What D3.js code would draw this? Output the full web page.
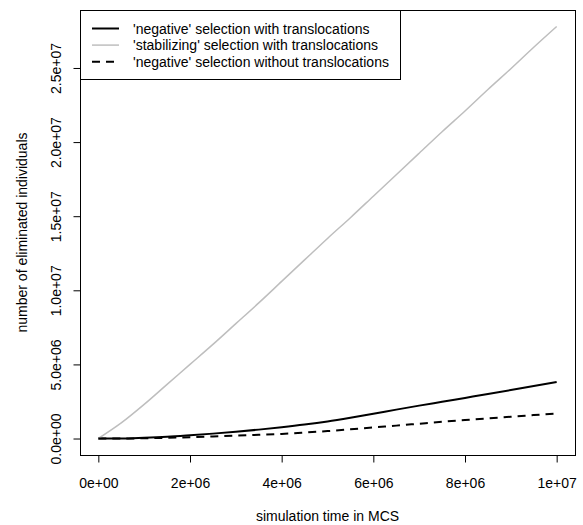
<!DOCTYPE html>
<html>
<head>
<meta charset="utf-8">
<script src="https://cdn.jsdelivr.net/npm/d3@7"></script>
<style>
  html, body { margin: 0; padding: 0; background: #fff; }
  svg { display: block; font-family: "Liberation Sans", Arial, Helvetica, sans-serif; }
</style>
</head>
<body>
<svg id="chart" width="583" height="525"></svg>
<script>
// ---- data ----
const time = [0, 0.5e6, 1e6, 1.5e6, 2e6, 2.5e6, 3e6, 3.5e6, 4e6, 4.5e6, 5e6,
              5.5e6, 6e6, 6.5e6, 7e6, 7.5e6, 8e6, 8.5e6, 9e6, 9.5e6, 1e7];
const negativeWith = [0, 0.0, 0.05e6, 0.12e6, 0.22e6, 0.33e6, 0.46e6, 0.6e6, 0.76e6, 0.94e6, 1.15e6,
                      1.4e6, 1.67e6, 1.95e6, 2.22e6, 2.48e6, 2.74e6, 3.0e6, 3.27e6, 3.55e6, 3.82e6];
const stabilizingWith = [0, 1.05e6, 2.3e6, 3.65e6, 5.0e6, 6.35e6, 7.75e6, 9.15e6, 10.6e6, 12.05e6, 13.5e6,
                         14.9e6, 16.35e6, 17.8e6, 19.25e6, 20.7e6, 22.1e6, 23.55e6, 24.95e6, 26.4e6, 27.8e6];
const negativeWithout = [0, 0.0, 0.02e6, 0.05e6, 0.09e6, 0.14e6, 0.19e6, 0.25e6, 0.31e6, 0.4e6, 0.5e6,
                         0.62e6, 0.75e6, 0.87e6, 1.0e6, 1.13e6, 1.25e6, 1.36e6, 1.47e6, 1.58e6, 1.69e6];
const xTicks = [0, 2e6, 4e6, 6e6, 8e6, 1e7];
const xTickLabels = ["0e+00", "2e+06", "4e+06", "6e+06", "8e+06", "1e+07"];
const yTicks = [0, 5e6, 1e7, 1.5e7, 2e7, 2.5e7];
const yTickLabels = ["0.0e+00", "5.0e+06", "1.0e+07", "1.5e+07", "2.0e+07", "2.5e+07"];
const seriesNames = ["'negative' selection with translocations",
                     "'stabilizing' selection with translocations",
                     "'negative' selection without translocations"];
const xTitle = "simulation time in MCS";
const yTitle = "number of eliminated individuals";

// ---- layout ----
const svg = d3.select("#chart");
const L = 80, R = 575, T = 10, B = 455;
const xMin = 0, xMax = 1e7, yMin = 0, yMax = d3.max(stabilizingWith);
const xPad = (xMax - xMin) * 0.04, yPad = (yMax - yMin) * 0.04;
const x = d3.scaleLinear().domain([xMin - xPad, xMax + xPad]).range([L, R]);
const y = d3.scaleLinear().domain([yMin - yPad, yMax + yPad]).range([B, T]);

// series
const series = [
  {name: seriesNames[0], values: negativeWith, color: "#000", width: 2, dash: null},
  {name: seriesNames[1], values: stabilizingWith, color: "#bebebe", width: 1.5, dash: null},
  {name: seriesNames[2], values: negativeWithout, color: "#000", width: 2, dash: "8,6"}
];
const line = d3.line().x(d => x(d[0])).y(d => y(d[1])).curve(d3.curveMonotoneX);
series.forEach(s => {
  svg.append("path")
    .datum(time.map((t, i) => [t, s.values[i]]))
    .attr("d", line)
    .attr("fill", "none")
    .attr("stroke", s.color)
    .attr("stroke-width", s.width)
    .attr("stroke-dasharray", s.dash);
});

// axes
const xAxis = d3.axisBottom(x).tickValues(xTicks).tickFormat((d, i) => xTickLabels[i]).tickSize(7);
const gx = svg.append("g").attr("transform", `translate(0,${B + 0.5})`).call(xAxis);
gx.select(".domain").remove();
gx.selectAll("line").attr("stroke", "#000");
gx.selectAll("text").attr("font-size", 14).attr("fill", "#000").attr("dy", null).attr("y", 32);

const yAxis = d3.axisLeft(y).tickValues(yTicks).tickFormat((d, i) => yTickLabels[i]).tickSize(7);
const gy = svg.append("g").attr("transform", `translate(${L + 0.5},0)`).call(yAxis);
gy.select(".domain").remove();
gy.selectAll("line").attr("stroke", "#000");
gy.selectAll("text").attr("font-size", 14).attr("fill", "#000")
  .attr("x", null).attr("dy", null).attr("text-anchor", "middle")
  .attr("transform", "translate(-20,0) rotate(-90)");

// box
svg.append("rect").attr("x", L + 0.5).attr("y", T + 0.5).attr("width", R - L).attr("height", B - T)
  .attr("fill", "none").attr("stroke", "#000").attr("stroke-width", 1);

// axis titles
svg.append("text").attr("x", (L + R) / 2).attr("y", 521).attr("text-anchor", "middle")
  .attr("font-size", 14).text(xTitle);
svg.append("text").attr("transform", `translate(26.5,${(T + B) / 2}) rotate(-90)`)
  .attr("text-anchor", "middle").attr("font-size", 14).text(yTitle);

// legend
const lg = svg.append("g");
lg.append("rect").attr("x", L + 0.5).attr("y", T + 0.5).attr("width", 320).attr("height", 69)
  .attr("fill", "#fff").attr("stroke", "#000");
series.forEach((s, i) => {
  const ly = 28.5 + i * 16.6;
  lg.append("line").attr("x1", 92).attr("x2", 119).attr("y1", ly).attr("y2", ly)
    .attr("stroke", s.color).attr("stroke-width", s.width).attr("stroke-dasharray", s.dash);
  lg.append("text").attr("x", 133).attr("y", ly + 5).attr("font-size", 14).text(s.name);
});
</script>
</body>
</html>
